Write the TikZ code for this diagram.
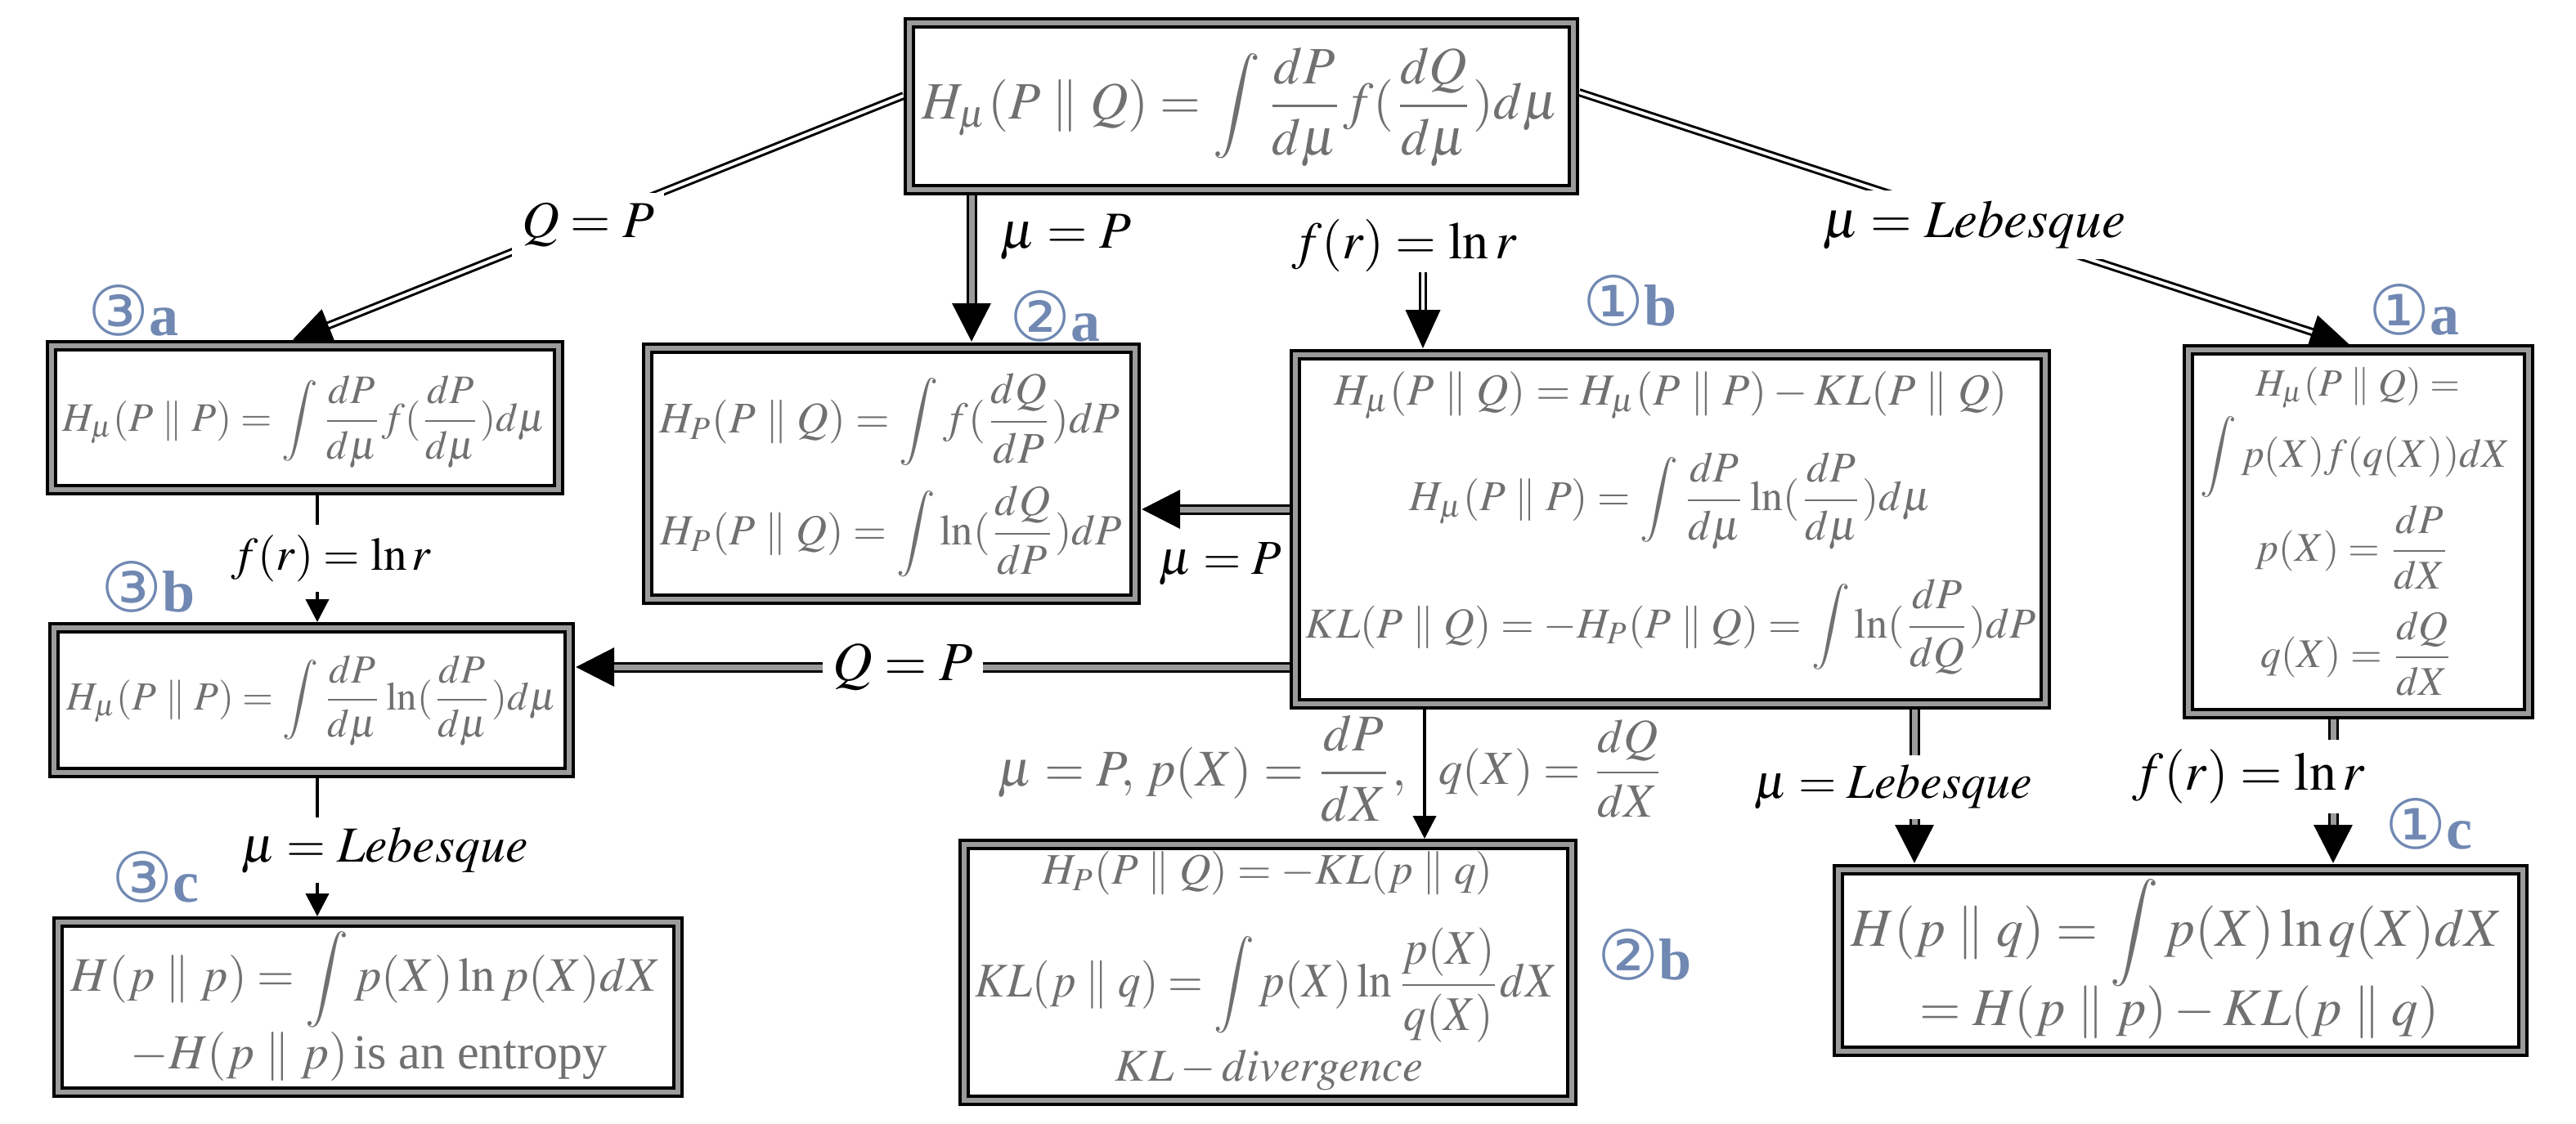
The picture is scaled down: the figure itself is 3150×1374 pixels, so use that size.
\documentclass[tikz,border=0pt]{standalone}
\usepackage{amsmath}
\usepackage{mathptmx}
\usepackage{fontspec}
\setmainfont{Liberation Serif}
\newfontfamily\djv{DejaVu Sans}
\newfontfamily\tms{Liberation Serif}
\usepackage{graphicx}
\usetikzlibrary{arrows.meta,calc}
\definecolor{bandgray}{RGB}{155,155,155}
\definecolor{txtgray}{RGB}{112,112,112}
\definecolor{labc}{RGB}{112,136,178}
\pgfdeclarelayer{bg}
\pgfsetlayers{bg,main}
\newcommand{\fml}[2]{\resizebox{#1}{!}{$\displaystyle #2$}}
\newcommand{\clab}[2]{\textcolor{labc}{{\fontsize{21pt}{21pt}\selectfont\djv #1}{\fontsize{18pt}{18pt}\selectfont\tms\bfseries #2}}}
\newcommand{\garr}[2]{\draw[dbase] #1 -- #2; \draw[dinng] #1 -- #2;}
\newcommand{\warr}[2]{\draw[dbasew] #1 -- #2; \draw[dinnw] #1 -- #2;}
\tikzset{
  box/.style={draw=black, line width=1pt, double=bandgray, double distance=1.5pt, outer sep=1.75pt, inner sep=0pt, line join=miter},
  ft/.style={text=txtgray, inner sep=0pt},
  lab/.style={fill=white, inner sep=3pt, text=black},
  lbn/.style={inner sep=0pt, text=black},
  glab/.style={inner sep=0pt, text=txtgray},
  clb/.style={inner sep=0pt},
  dbase/.style={draw=black, line width=3.25pt, -{Triangle[length=12pt,width=11pt]}},
  dbasew/.style={draw=black, line width=2.5pt, -{Triangle[length=12pt,width=10pt]}},
  dinng/.style={draw=bandgray, line width=1.75pt, shorten >=12pt},
  dinnw/.style={draw=white, line width=1pt, shorten >=12pt},
  sgl/.style={draw=black, line width=1pt, -{Triangle[length=7pt,width=7pt]}}
}
\begin{document}
\begin{tikzpicture}[x=0.25pt,y=-0.25pt]
\useasboundingbox (0,0) rectangle (3150,1374);
% boxes
\node[box, minimum width=203pt, minimum height=51pt] (top) at (1518,130) {};
\node[box, minimum width=155pt, minimum height=44pt] (a3) at (373,511) {};
\node[box, minimum width=149pt, minimum height=76.75pt] (a2) at (1090,579.5) {};
\node[box, minimum width=229.25pt, minimum height=106.75pt] (b1) at (2042.5,647.5) {};
\node[box, minimum width=104pt, minimum height=111.25pt] (a1) at (2884,650.5) {};
\node[box, minimum width=157.5pt, minimum height=44.25pt] (b3) at (381,856.5) {};
\node[box, minimum width=185.75pt, minimum height=78.25pt] (b2) at (1550.5,1189.5) {};
\node[box, minimum width=189.5pt, minimum height=52pt] (c3) at (450,1232) {};
\node[box, minimum width=209.25pt, minimum height=55.5pt] (c1) at (2666.5,1175) {};
% box texts
\node[ft] (topt) at (1517,131) {\fml{194.5pt}{H_\mu(P\parallel Q)=\int\frac{dP}{d\mu}f(\frac{dQ}{d\mu})d\mu}};
\node[ft] (a3t) at (372,516) {\fml{147.75pt}{H_\mu(P\parallel P)=\int\frac{dP}{d\mu}f(\frac{dP}{d\mu})d\mu}};
\node[ft] (a2t1) at (1088,513) {\fml{140.75pt}{H_P(P\parallel Q)=\int f(\frac{dQ}{dP})dP}};
\node[ft] (a2t2) at (1090,650) {\fml{141pt}{H_P(P\parallel Q)=\int \ln(\frac{dQ}{dP})dP}};
\node[ft] (b1t1) at (2043,484) {\fml{205.75pt}{H_\mu(P\parallel Q)=H_\mu(P\parallel P)-KL(P\parallel Q)}};
\node[ft] (b1t2) at (2043,613) {\fml{159.5pt}{H_\mu(P\parallel P)=\int\frac{dP}{d\mu}\ln(\frac{dP}{d\mu})d\mu}};
\node[ft] (b1t3) at (2043,767) {\fml{223.25pt}{KL(P\parallel Q)=-H_P(P\parallel Q)=\int\ln(\frac{dP}{dQ})dP}};
\node[ft] (a1t1) at (2883,474) {\fml{62.5pt}{H_\mu(P\parallel Q)=}};
\node[ft] (a1t2) at (2880,559) {\fml{94.75pt}{\int p(X)f(q(X))dX}};
\node[ft] (a1t3) at (2877,670) {\fml{59.5pt}{p(X)=\frac{dP}{dX}}};
\node[ft] (a1t4) at (2882,800) {\fml{58.75pt}{q(X)=\frac{dQ}{dX}}};
\node[ft] (b3t) at (381,857) {\fml{149.75pt}{H_\mu(P\parallel P)=\int\frac{dP}{d\mu}\ln(\frac{dP}{d\mu})d\mu}};
\node[ft] (b2t1) at (1550,1068) {\fml{137.75pt}{H_P(P\parallel Q)=-KL(p\parallel q)}};
\node[ft] (b2t2) at (1548,1205) {\resizebox*{178pt}{35pt}{$\displaystyle KL(p\parallel q)=\int p(X)\ln\frac{p(X)}{q(X)}dX$}};
\node[ft] (b2t3) at (1552,1309) {\fml{94pt}{KL-divergence}};
\node[ft] (c3t1) at (447,1198) {\fml{180.25pt}{H(p\parallel p)=\int p(X)\ln p(X)dX}};
\node[ft] (c3t2) at (451,1292) {\fml{145.75pt}{-H(p\parallel p)\,\text{\tms is an entropy}}};
\node[ft] (c1t1) at (2662,1141) {\fml{199pt}{H(p\parallel q)=\int p(X)\ln q(X)dX}};
\node[ft] (c1t2) at (2665,1238) {\fml{158.75pt}{=H(p\parallel p)-KL(p\parallel q)}};
% circled labels
\node[clb] (n3a) at (163,380) {\clab{③}{a}};
\node[clb] (n2a) at (1290,387) {\clab{②}{a}};
\node[clb] (n1b) at (1993,368) {\clab{①}{b}};
\node[clb] (n1a) at (2952,379) {\clab{①}{a}};
\node[clb] (n3b) at (181,718) {\clab{③}{b}};
\node[clb] (n3c) at (190,1073) {\clab{③}{c}};
\node[clb] (n1c) at (2970,1008) {\clab{①}{c}};
\node[clb] (n2b) at (2011,1168) {\clab{②}{b}};
% connector labels
\node[lab] (lqp1) at (719,275) {\fml{40.5pt}{Q=P}};
\node[lbn] (lmp1) at (1303,290) {\fml{40pt}{\mu=P}};
\node[lbn] (lfr1) at (1717,300) {\fml{68.75pt}{f(r)=\ln r}};
\node[lab] (lleb1) at (2414,275) {\fml{92.5pt}{\mu=Lebesque}};
\node[lab] (lfr2) at (405,683) {\fml{61.25pt}{f(r)=\ln r}};
\node[lab] (lleb2) at (470,1040) {\fml{87.75pt}{\mu=Lebesque}};
\node[lbn] (lmp2) at (1492,690) {\fml{37.5pt}{\mu=P}};
\node[lab] (lqp2) at (1104,816) {\fml{43pt}{Q=P}};
\node[lab] (lleb3) at (2315,963) {\fml{85pt}{\mu=Lebesque}};
\node[lab] (lfr3) at (2750,950) {\fml{71pt}{f(r)=\ln r}};
\node[glab] (lg1) at (1470,940) {\fml{125pt}{\mu=P,\, p(X)=\frac{dP}{dX},}};
\node[glab] (lg2) at (1897,940) {\fml{68.75pt}{q(X)=\frac{dQ}{dX}}};
% helper coordinates
\coordinate (x1188) at (1188,0);
\coordinate (frs) at (1740,333);
\coordinate (y623) at (0,623);
\coordinate (y816) at (0,816);
\coordinate (x388) at (388,0);
\coordinate (x1742) at (1742,0);
\coordinate (x2341) at (2341,0);
\coordinate (x2853) at (2853,0);
\begin{pgfonlayer}{bg}
\warr{([yshift=3.25pt]top.west)}{([xshift=-4pt]a3.north)}
\warr{([yshift=4.25pt]top.east)}{([xshift=-2.75pt]a1.north)}
\garr{(x1188 |- top.south)}{(x1188 |- a2.north)}
\warr{(frs)}{(frs |- b1.north)}
\garr{(b1.west |- y623)}{(a2.east |- y623)}
\garr{(b1.west |- y816)}{(b3.east |- y816)}
\draw[sgl] (x388 |- a3.south) -- (x388 |- b3.north);
\draw[sgl] (x388 |- b3.south) -- (x388 |- c3.north);
\draw[sgl] (x1742 |- b1.south) -- (x1742 |- b2.north);
\garr{(x2341 |- b1.south)}{(x2341 |- c1.north)}
\garr{(x2853 |- a1.south)}{(x2853 |- c1.north)}
\end{pgfonlayer}
\end{tikzpicture}
\end{document}
